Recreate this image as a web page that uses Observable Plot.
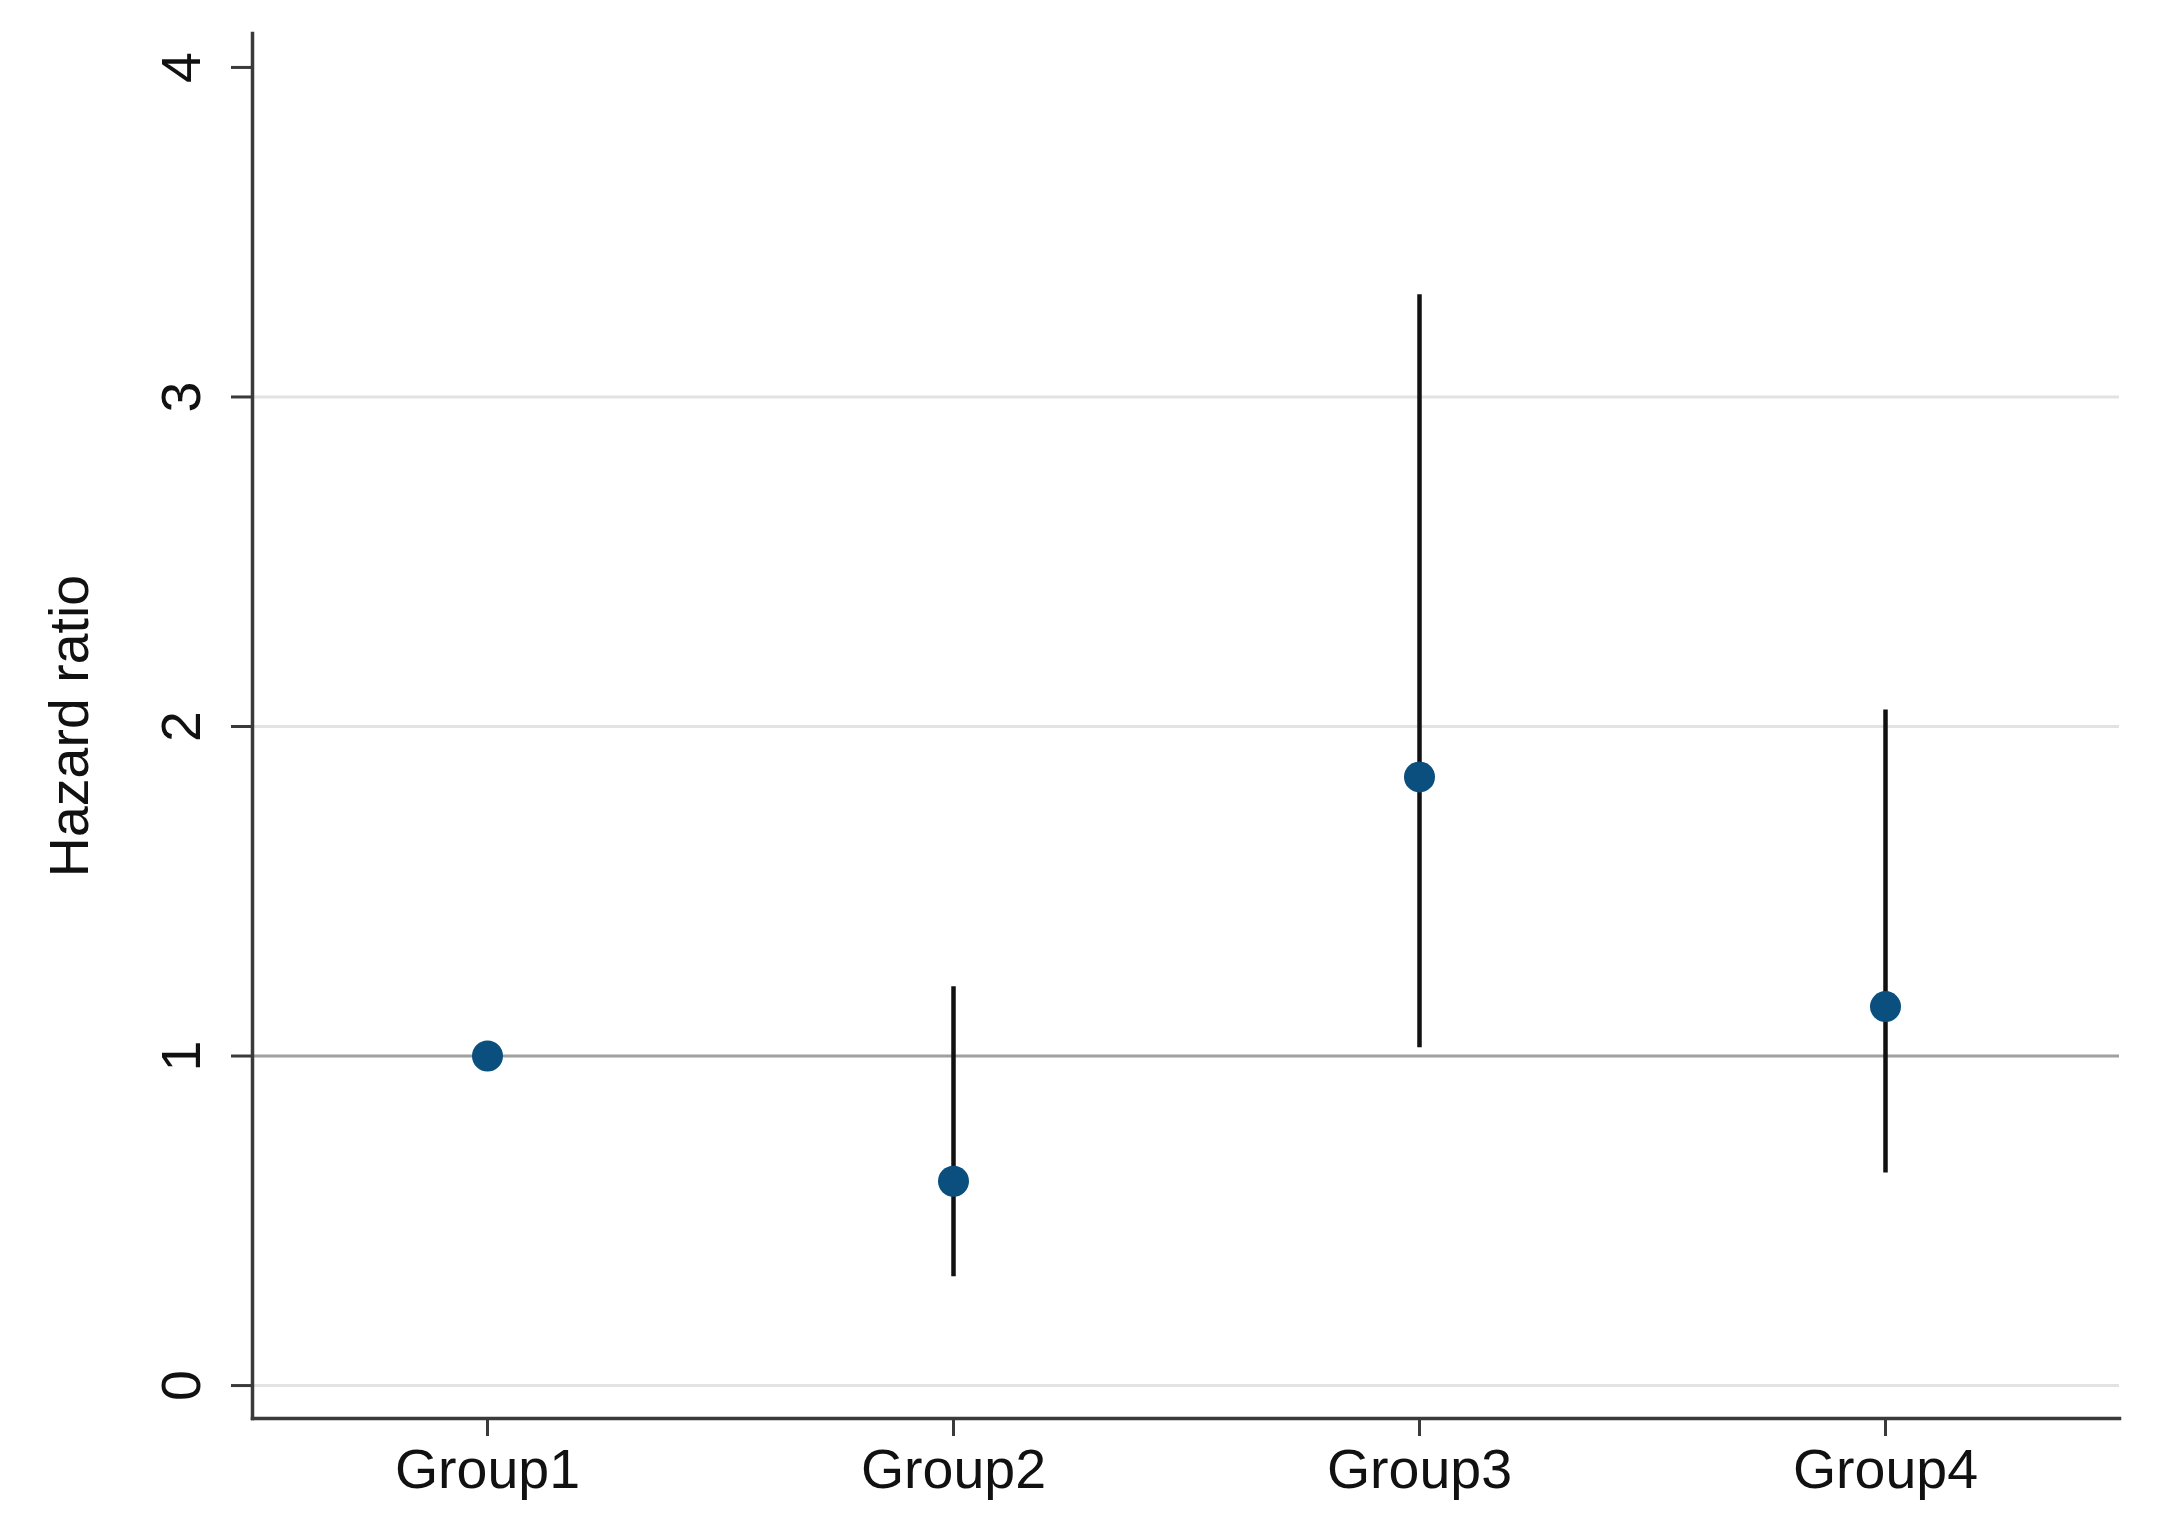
<!DOCTYPE html>
<html><head><meta charset="utf-8">
<script src="https://cdn.jsdelivr.net/npm/d3@7"></script>
<script src="https://cdn.jsdelivr.net/npm/@observablehq/plot@0.6"></script>
<style>body{margin:0;background:#fff} svg{display:block}</style>
</head><body><div id="chart"></div>
<script>
const groups = ["Group1", "Group2", "Group3", "Group4"];
const hr = [1.0, 0.62, 1.847, 1.15];
const ciLow = [null, 0.33, 1.025, 0.645];
const ciHigh = [null, 1.21, 3.31, 2.05];
const yTicks = [0, 1, 2, 3, 4];
const gridValues = [0, 2, 3];
const refValue = 1;
const yLabel = "Hazard ratio";

const rows = groups.map((g, i) => ({group: g, hr: hr[i], lo: ciLow[i], hi: ciHigh[i]}));
const ci = rows.filter(d => d.lo != null);

const chart = Plot.plot({
  width: 2180, height: 1539,
  marginTop: 33, marginBottom: 121, marginLeft: 252, marginRight: 61,
  style: {fontFamily: "'Liberation Sans', Arial, sans-serif", fontSize: "55.5px", color: "#111", background: "#fff"},
  x: {type: "point", domain: groups, padding: 0.5, label: null},
  y: {domain: [-0.1, 4.103], label: null},
  marks: [
    Plot.ruleY(gridValues, {stroke: "#e3e3e3", strokeWidth: 3}),
    Plot.ruleY([refValue], {stroke: "#a0a0a0", strokeWidth: 3}),
    Plot.frame({anchor: "left", stroke: "#3a3a3a", strokeWidth: 3.5}),
    Plot.frame({anchor: "bottom", stroke: "#3a3a3a", strokeWidth: 3.5}),
    Plot.axisY({ticks: yTicks, tickSize: 21, tickFormat: () => "", stroke: "#3a3a3a", strokeWidth: 3}),
    Plot.text(yTicks, {y: d => d, text: d => String(d), frameAnchor: "left", textAnchor: "middle", dx: -70, rotate: -90, fontSize: 55.5, fill: "#111"}),
    Plot.axisX({tickSize: 18, tickPadding: 12, fontSize: 55.5, stroke: "#3a3a3a", strokeWidth: 3, fill: "#111"}),
    Plot.text([yLabel], {frameAnchor: "left", textAnchor: "middle", dx: -182, rotate: -90, fontSize: 55.5, fill: "#111"}),
    Plot.ruleX(ci, {x: "group", y1: "lo", y2: "hi", stroke: "#111", strokeWidth: 4.5}),
    Plot.dot(rows, {x: "group", y: "hr", r: 15.5, fill: "#0a4f7d", stroke: "none"})
  ]
});
document.getElementById("chart").appendChild(chart);
</script>
</body></html>
